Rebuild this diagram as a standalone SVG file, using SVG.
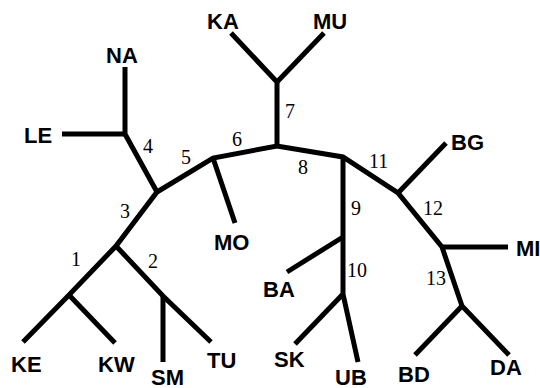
<svg xmlns="http://www.w3.org/2000/svg" width="540" height="388" viewBox="0 0 540 388">
<style>
.e{fill:none;stroke:#000;stroke-width:5;stroke-linecap:butt;stroke-linejoin:miter}
.n{font-family:"Liberation Sans",Arial,sans-serif;font-size:22px;font-weight:bold;fill:#000}
.l{font-family:"Liberation Serif","Times New Roman",serif;font-size:20px;fill:#000}
</style>
<rect width="540" height="388" fill="#fff"/>
<g id="connectors">
<path class="e" d="M23,342 L69,295 L116,246 L157,192 L213,158 L277,146 L343,157 L398,193 L442,247 L462,306 L509,355"/>
<path class="e" d="M115,343 L69,295"/>
<path class="e" d="M116,246 L163,296 L211,342"/>
<path class="e" d="M163,362 L163,296"/>
<path class="e" d="M157,192 L125,134 L125,67"/>
<path class="e" d="M62,134 L125,134"/>
<path class="e" d="M213,158 L235,223"/>
<path class="e" d="M277,146 L277,82 L231,33"/>
<path class="e" d="M277,82 L324,33"/>
<path class="e" d="M343,157 L343,294 L358,362"/>
<path class="e" d="M343,237 L287,272"/>
<path class="e" d="M343,294 L295,344"/>
<path class="e" d="M398,193 L446,143"/>
<path class="e" d="M442,247 L508,247"/>
<path class="e" d="M462,306 L415,355"/>
</g>
<g id="edge-labels">
<text class="l" x="71" y="266">1</text>
<text class="l" x="148" y="268">2</text>
<text class="l" x="120" y="218">3</text>
<text class="l" x="143" y="153">4</text>
<text class="l" x="181" y="164">5</text>
<text class="l" x="232" y="146">6</text>
<text class="l" x="285" y="118">7</text>
<text class="l" x="298" y="174">8</text>
<text class="l" x="351" y="215">9</text>
<text class="l" x="347" y="277">10</text>
<text class="l" x="369" y="168">11</text>
<text class="l" x="423" y="215">12</text>
<text class="l" x="426" y="285">13</text>
</g>
<g id="KE"><text class="n" x="11" y="372">KE</text></g>
<g id="KW"><text class="n" x="98" y="372">KW</text></g>
<g id="SM"><text class="n" x="151" y="385">SM</text></g>
<g id="TU"><text class="n" x="207" y="368">TU</text></g>
<g id="LE"><text class="n" x="24" y="143">LE</text></g>
<g id="NA"><text class="n" x="106" y="63">NA</text></g>
<g id="MO"><text class="n" x="214" y="250">MO</text></g>
<g id="KA"><text class="n" x="207" y="29">KA</text></g>
<g id="MU"><text class="n" x="313" y="29">MU</text></g>
<g id="BA"><text class="n" x="263" y="297">BA</text></g>
<g id="SK"><text class="n" x="274" y="367">SK</text></g>
<g id="UB"><text class="n" x="335" y="385">UB</text></g>
<g id="BG"><text class="n" x="451" y="150">BG</text></g>
<g id="MI"><text class="n" x="516" y="256">MI</text></g>
<g id="BD"><text class="n" x="398" y="382">BD</text></g>
<g id="DA"><text class="n" x="490" y="375">DA</text></g>
</svg>
